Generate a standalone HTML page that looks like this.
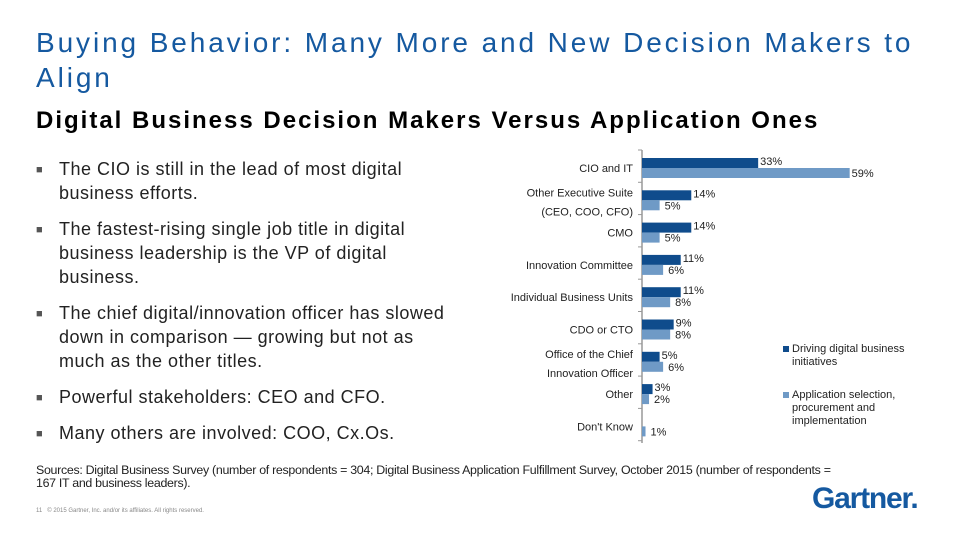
<!DOCTYPE html>
<html><head><meta charset="utf-8"><style>
body{margin:0;width:960px;height:540px;background:#fff;font-family:"Liberation Sans",sans-serif;position:relative;overflow:hidden}
.t{position:absolute;margin:0}
#title{left:36px;top:25px;font-size:28px;line-height:35px;color:#1559a0;font-weight:normal;letter-spacing:2.9px;white-space:nowrap}
#sub{left:36px;top:107px;font-size:24px;font-weight:bold;color:#000;letter-spacing:2px;white-space:nowrap}
.b{position:absolute;left:36px;font-size:18px;line-height:24px;color:#222;width:440px;letter-spacing:0.5px}
.b span.m{position:absolute;left:0;font-size:11px;color:#555;top:1px}
.b div{margin-left:23px;width:398px}
#src{left:36px;top:464px;font-size:12.4px;line-height:13px;color:#222;letter-spacing:-0.3px;white-space:nowrap}
#copy{left:36px;top:508px;font-size:6px;color:#888}
#logo{left:812px;top:482px;font-size:30px;font-weight:bold;color:#1559a0;letter-spacing:-1.2px}
</style></head><body>
<h1 class="t" id="title">Buying Behavior: Many More and New Decision Makers to<br>Align</h1>
<h2 class="t" id="sub">Digital Business Decision Makers Versus Application Ones</h2>
<div class="b" style="top:157px"><span class="m">■</span><div>The CIO is still in the lead of most digital business efforts.</div></div>
<div class="b" style="top:217px"><span class="m">■</span><div>The fastest-rising single job title in digital business leadership is the VP of digital business.</div></div>
<div class="b" style="top:301px"><span class="m">■</span><div>The chief digital/innovation officer has slowed down in comparison — growing but not as much as the other titles.</div></div>
<div class="b" style="top:385px"><span class="m">■</span><div>Powerful stakeholders: CEO and CFO.</div></div>
<div class="b" style="top:421px"><span class="m">■</span><div>Many others are involved: COO, Cx.Os.</div></div>
<svg id="chart" width="960" height="540" style="position:absolute;left:0;top:0"></svg>
<p class="t" id="src">Sources: Digital Business Survey (number of respondents = 304; Digital Business Application Fulfillment Survey, October 2015 (number of respondents =<br>167 IT and business leaders).</p>
<p class="t" id="copy">11 &nbsp; © 2015 Gartner, Inc. and/or its affiliates. All rights reserved.</p>
<p class="t" id="logo">Gartner.</p>
<script>
const categories=[["CIO and IT"],["Other Executive Suite","(CEO, COO, CFO)"],["CMO"],["Innovation Committee"],["Individual Business Units"],["CDO or CTO"],["Office of the Chief","Innovation Officer"],["Other"],["Don't Know"]];
const driving=[33,14,14,11,11,9,5,3,0];
const application=[59,5,5,6,8,8,6,2,1];
const seriesNames=["Driving digital business initiatives","Application selection, procurement and implementation"];
const svg=document.getElementById('chart');const NS='http://www.w3.org/2000/svg';
const x0=642,k=3.52,y0=158,step=32.3,bh=10;
const xs=v=>x0+v*k, ys=i=>y0+i*step;
function el(t,a,p){const e=document.createElementNS(NS,t);for(const n in a)e.setAttribute(n,a[n]);(p||svg).appendChild(e);return e;}
const ax=el('line',{x1:x0,y1:150,x2:x0,y2:443,stroke:'#999','stroke-width':1.5});


for(let i=0;i<=categories.length;i++){const tk=el('line',{x1:x0-4,x2:x0,y1:ys(i)-8,y2:ys(i)-8,stroke:'#999'});

}
categories.forEach((c,i)=>{
const y=ys(i);
const t=el('text',{x:633,'text-anchor':'end','font-size':11,fill:'#222','font-family':'Liberation Sans, sans-serif'});


if(c.length==1){t.setAttribute('y',y+14);t.textContent=c[0];}
else{c.forEach((s,j)=>{const ts=el('tspan',{x:633,y:y+6+j*19},t);ts.textContent=s;});}
const w1=driving[i]*k,w2=application[i]*k;
if(driving[i]>0){const r=el('rect',{x:x0,y:y,width:w1,height:bh,fill:'#0f4c8c'});


const l=el('text',{x:xs(driving[i])+2,y:y+7,'font-size':11,fill:'#222'});l.textContent=driving[i]+'%';

}
const r2=el('rect',{x:x0,y:y+bh,width:w2,height:bh,fill:'#6f9ac6'});


const l2=el('text',{x:xs(application[i])+(i==0?2:5),y:y+bh+9,'font-size':11,fill:'#222'});l2.textContent=application[i]+'%';


});
const lg=[[783,352,'#0f4c8c',["Driving digital business","initiatives"]],[783,398,'#6f9ac6',["Application selection,","procurement and","implementation"]]];
lg.forEach(L=>{const s=el('rect',{x:L[0],y:L[1]-6,width:6,height:6,fill:L[2]});


const t=el('text',{'font-size':11,fill:'#222'});


L[3].forEach((s2,j)=>{const ts=el('tspan',{x:L[0]+9,y:L[1]+j*13},t);ts.textContent=s2;});});
</script>
</body></html>
